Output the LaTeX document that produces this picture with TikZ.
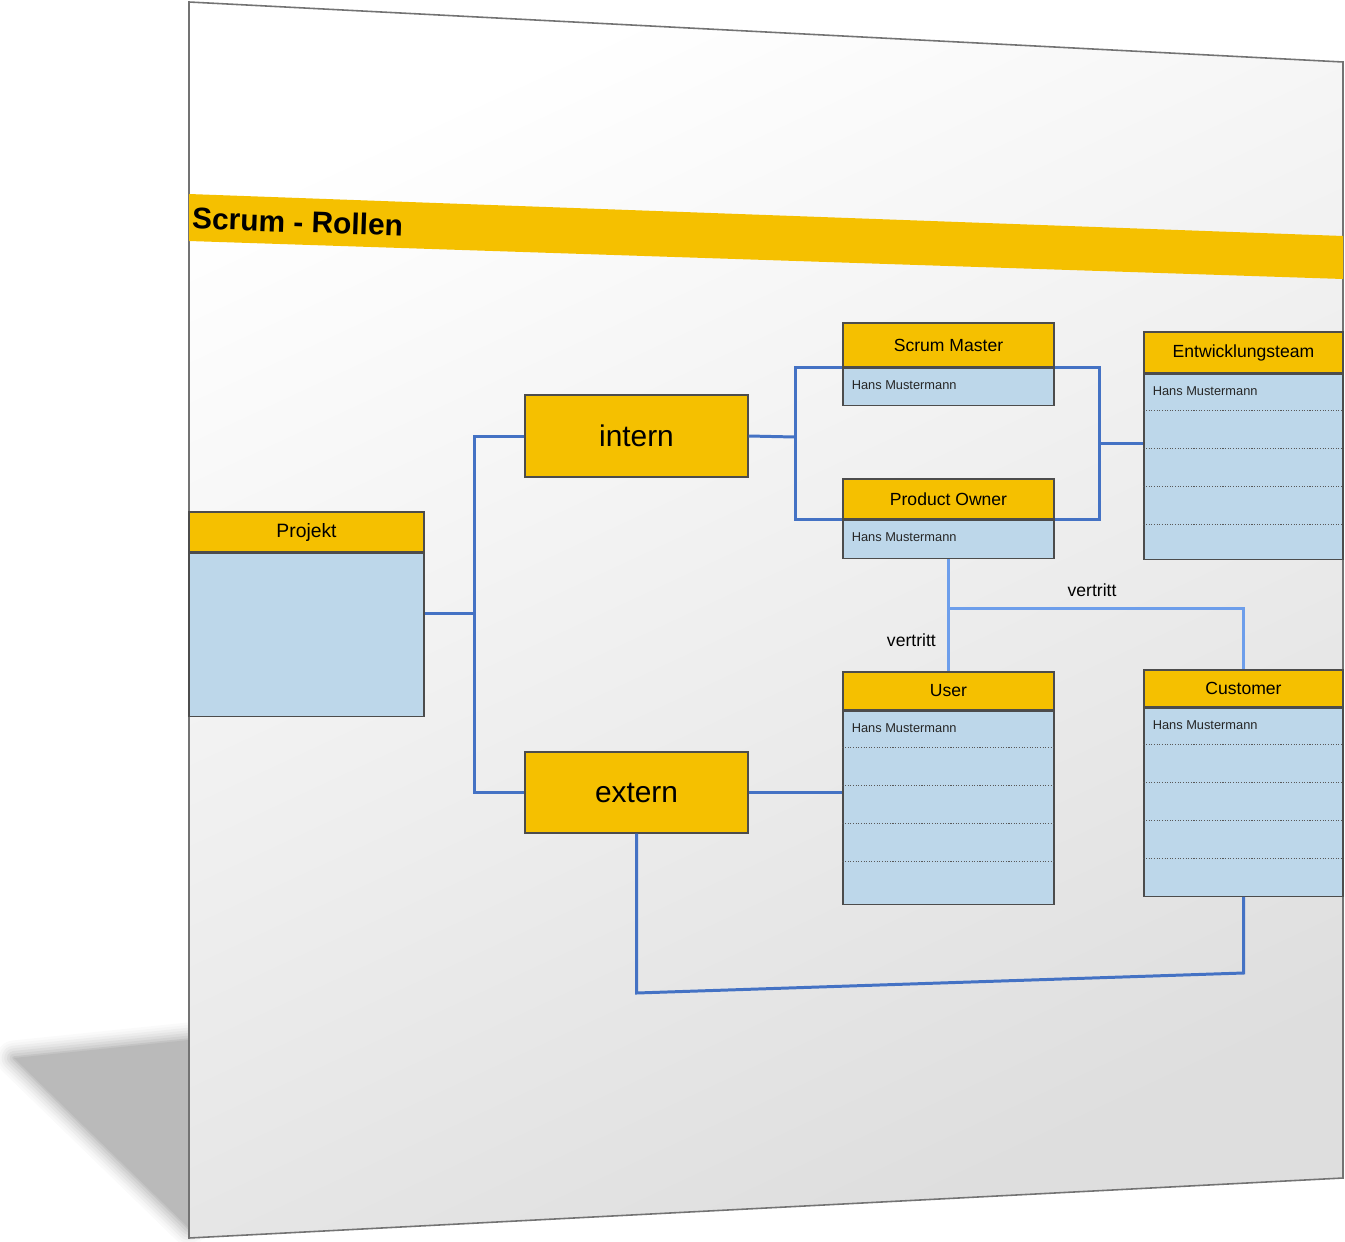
\documentclass[tikz,border=0pt]{standalone}
\usepackage{fontspec}
\setmainfont{Liberation Sans}
\usepackage{tikz}
\usetikzlibrary{positioning,calc}

\definecolor{headyellow}{HTML}{F5C000}
\definecolor{bodyblue}{HTML}{BDD7EA}
\definecolor{linkblue}{HTML}{4472C4}
\definecolor{reprblue}{HTML}{6D9EEB}

\begin{document}
\begin{tikzpicture}[x=0.02cm, y=-0.02cm,
  head/.style={draw=black!70, fill=headyellow, line width=0.7pt, inner sep=0pt,
    font=\fontsize{10}{12}\selectfont},
  body/.style={draw=black!70, fill=bodyblue, line width=0.7pt, inner sep=0pt, anchor=north},
  group/.style={draw=black!70, fill=headyellow, line width=0.7pt, minimum width=4.46cm,
    font=\fontsize{17}{20}\selectfont},
  person/.style={anchor=west, inner sep=0pt, font=\fontsize{7.3}{8}\selectfont, text=black!85},
  link/.style={draw=linkblue, line width=1.7pt},
  repr/.style={draw=reprblue, line width=1.7pt},
  dotline/.style={black!65, line width=0.6pt, dash pattern=on 0.6pt off 0.9pt},
  lab/.style={font=\fontsize{10}{12}\selectfont},
]
  \useasboundingbox (0,0) rectangle (1345,1241);

  % Shadow and the tilted slide.
  \foreach \w/\c in {20/2, 17/4, 14/7, 11/10, 8/14, 5/18, 2/23}
    \draw[black!\c, line width=\w pt, line join=round] (14,1058) -- (189,1040) -- (189,1228) -- cycle;
  \fill[black!27] (14,1058) -- (189,1040) -- (189,1228) -- cycle;
  \shade[top color=white, bottom color=black!13, shading angle=25]
    (189,2) -- (1343,62) -- (1343,1178) -- (189,1238) -- cycle;
  \draw[black!55, line width=0.9pt] (189,2) -- (1343,62) -- (1343,1178) -- (189,1238) -- cycle;

  % Title bar.
  \fill[headyellow] (189,194) -- (1343,236) -- (1343,279) -- (189,241) -- cycle;
  \node[anchor=west, inner sep=0pt, rotate=-2, font=\fontsize{17}{20}\selectfont\bfseries]
    (title) at (192,218) {Scrum - Rollen};

  % Project and the two groups.
  \node[head, minimum width=4.7cm, minimum height=0.8cm, font=\fontsize{11}{13}\selectfont]
    (proj) at (306.5,532) {Projekt};
  \node[body, minimum width=4.7cm, minimum height=3.26cm] (proj-b) at (proj.south) {};
  \node[group, minimum height=1.64cm] (intern) at (636.5,436) {intern};
  \node[group, minimum height=1.62cm] (extern) at (636.5,792.5) {extern};

  % Roles.
  \node[head, minimum width=4.22cm, minimum height=0.88cm] (sm) at (948.5,345) {Scrum Master};
  \node[body, minimum width=4.22cm, minimum height=0.74cm] (sm-b) at (sm.south) {};
  \node[head, minimum width=4.22cm, minimum height=0.8cm] (po) at (948.5,499) {Product Owner};
  \node[body, minimum width=4.22cm, minimum height=0.76cm] (po-b) at (po.south) {};
  \node[head, minimum width=3.98cm, minimum height=0.82cm] (dev) at (1243.5,352.5) {Entwicklungsteam};
  \node[body, minimum width=3.98cm, minimum height=3.7cm] (dev-b) at (dev.south) {};
  \node[head, minimum width=4.22cm, minimum height=0.76cm] (user) at (948.5,691) {User};
  \node[body, minimum width=4.22cm, minimum height=3.86cm] (user-b) at (user.south) {};
  \node[head, minimum width=3.98cm, minimum height=0.74cm] (cust) at (1243.5,688.5) {Customer};
  \node[body, minimum width=3.98cm, minimum height=3.76cm] (cust-b) at (cust.south) {};

  \foreach \b in {sm-b, po-b, dev-b, user-b, cust-b}
    \node[person] (\b-n) at ($(\b.north west)+(9,18)$) {Hans Mustermann};
  \foreach \b in {dev-b, user-b, cust-b}
    \foreach \k in {1,...,4}
      \draw[dotline] ($(\b.north west)+(0,{38*\k-1})$) -- ($(\b.north east)+(0,{38*\k-1})$);

  % Connectors.
  \coordinate (jA) at (474,613);
  \coordinate (jB) at (795,437);
  \coordinate (jC) at (1099,443);
  \coordinate (jD) at (948.5,608);
  \coordinate (lowL) at (636.5,993);
  \coordinate (lowR) at (1243.5,973);

  \draw[link] (proj-b.east |- jA) -- (jA);
  \draw[link] (intern.west) -| (jA) |- (extern.west);
  \draw[link] (intern.east) -- (jB);
  \draw[link] (sm.south west) -| (jB) |- (po.south west);
  \draw[link] (sm.south east) -| (jC) |- (po.south east);
  \draw[link] (jC) -- (dev-b.west |- jC);
  \draw[link] (extern.east) -- (user-b.west |- extern.east);
  \draw[link] (extern.south) -- (lowL) -- (lowR) -- (cust-b.south);
  \draw[repr] (po-b.south) -- (user.north);
  \draw[repr] (jD) -| (cust.north);
  \node[lab, anchor=south] (rep1) at (1092,603) {vertritt};
  \node[lab, anchor=east] (rep2) at (942,640) {vertritt};
\end{tikzpicture}
\end{document}
